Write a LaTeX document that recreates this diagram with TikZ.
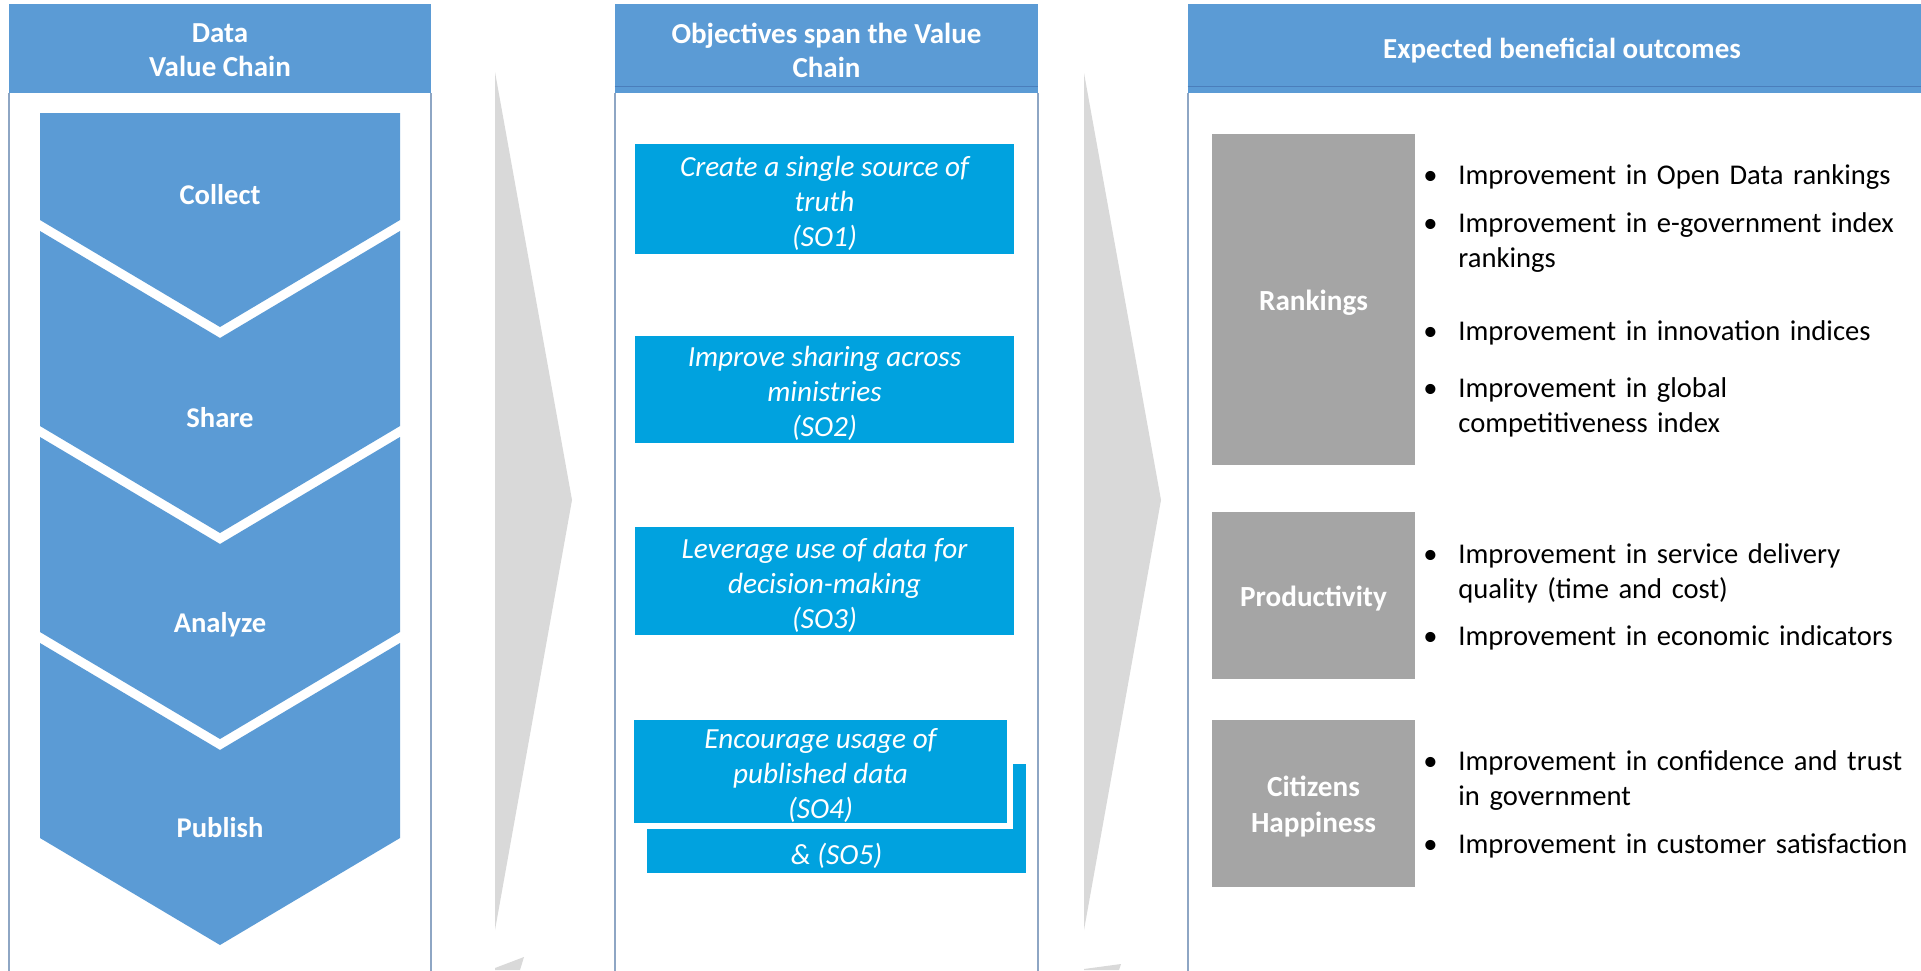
\documentclass[tikz,border=0pt]{standalone}
\usepackage{fontspec}
\setmainfont{Carlito}
\definecolor{hdrblue}{HTML}{5B9BD5}
\definecolor{socyan}{HTML}{00A2DF}
\definecolor{boxgray}{HTML}{A5A5A5}
\definecolor{arrowgray}{HTML}{D9D9D9}
\definecolor{panelline}{HTML}{8EA6C4}
\definecolor{hdrline}{HTML}{4A7EBB}
\newcommand\mybullet{\llap{\makebox[14pt][c]{•}\hspace{7pt}}}
\begin{document}
\begin{tikzpicture}[x=0.5pt,y=-0.5pt,
  hdr/.style={fill=hdrblue, inner sep=0pt, minimum height=44.5pt},
  hdrtext/.style={text=white, inner sep=0pt, font=\bfseries\fontsize{14.5}{17}\selectfont, align=center},
  chevlabel/.style={text=white, inner sep=0pt, anchor=base, font=\bfseries\fontsize{14.3}{17}\selectfont},
  sobox/.style={fill=socyan, inner sep=0pt, minimum width=189.5pt},
  sotext/.style={text=white, inner sep=0pt, font=\itshape\fontsize{14.6}{17.5}\selectfont, align=center},
  graybox/.style={fill=boxgray, inner sep=0pt, minimum width=101.5pt},
  graytext/.style={text=white, inner sep=0pt, font=\bfseries\fontsize{14.6}{18}\selectfont, align=center},
  item/.style={anchor=base west, inner sep=0pt, font=\fontsize{14.3}{17.5}\selectfont, text width=245pt, align=left},
  panel/.style={draw=panelline, line width=0.6pt},
  grayarrow/.style={fill=arrowgray}]
\useasboundingbox (0,0) rectangle (1921,970);
\fill[white] (0,0) rectangle (1921,970);

% panels
\draw[panel] (9,93) -- (9,975);
\draw[panel] (431,93) -- (431,975);
\draw[panel] (615,93) -- (615,975);
\draw[panel] (1038,93) -- (1038,975);
\draw[panel] (1188,93) -- (1188,975);

% headers
\node[hdr, minimum width=211pt] (h1) at (220,48.5) {};
\node[hdr, minimum width=211.5pt] (h2) at (826.5,48.5) {};
\node[hdr, minimum width=374pt] (h3) at (1562,48.5) {};
\draw[hdrline, line width=0.8pt] ([yshift=3.5pt]h2.south west) -- ([yshift=3.5pt]h2.south east);
\draw[hdrline, line width=0.8pt] ([yshift=3.5pt]h3.south west) -- ([yshift=3.5pt]h3.south east);
\node[hdrtext] (h1t) at (220,50) {Data\\Value Chain};
\node[hdrtext] (h2t) at (826.5,50) {Objectives span the Value\\Chain};
\node[hdrtext] (h3t) at (1562,51) {Expected beneficial outcomes};

% chevrons
\fill[hdrblue] (40,113) -- (400,113) -- (400,220) -- (220,327) -- (40,220) -- cycle;
\fill[hdrblue] (40,231) -- (220,338) -- (400,231) -- (400,426) -- (220,533) -- (40,426) -- cycle;
\fill[hdrblue] (40,437) -- (220,544) -- (400,437) -- (400,632) -- (220,739) -- (40,632) -- cycle;
\fill[hdrblue] (40,643) -- (220,750) -- (400,643) -- (400,838) -- (220,945) -- (40,838) -- cycle;
\node[chevlabel] (collect) at (220,204) {Collect};
\node[chevlabel] (share) at (220,427) {Share};
\node[chevlabel] (analyze) at (220,632) {Analyze};
\node[chevlabel] (publish) at (220,837) {Publish};

% gray arrows
\fill[grayarrow] (495,72) -- (572,500) -- (495,930) -- cycle;
\fill[grayarrow] (495,970) -- (495,968) -- (524,957) -- (520,970) -- cycle;
\fill[grayarrow] (1084,73) -- (1161,500) -- (1084,930) -- cycle;
\fill[grayarrow] (1084,970) -- (1084,969) -- (1121,964) -- (1119,970) -- cycle;

% objectives
\node[sobox, minimum height=55pt] (so1) at (824.5,199) {};
\node[sotext] (so1t) at (824.5,203) {Create a single source of\\truth\\(SO1)};
\node[sobox, minimum height=53.5pt] (so2) at (824.5,389.5) {};
\node[sotext] (so2t) at (824.5,393.5) {Improve sharing across\\ministries\\(SO2)};
\node[sobox, minimum height=54pt] (so3) at (824.5,581) {};
\node[sotext] (so3t) at (824.5,585) {Leverage use of data for\\decision-making\\(SO3)};
\node[sobox, minimum height=54.5pt] (so5) at (836.5,818.5) {};
\node[sotext, anchor=base] (so5t) at (836.5,864) {\& (SO5)};
\fill[white] (628.5,714.5) rectangle (1012.5,828.5);
\node[sobox, minimum width=186.5pt, minimum height=51.5pt] (so4) at (820.5,771.5) {};
\node[sotext] (so4t) at (820.5,775) {Encourage usage of\\published data\\(SO4)};

% outcomes
\node[graybox, minimum height=165.5pt] (rank) at (1313.5,299.5) {};
\node[graytext] (rankt) at (1313.5,302.5) {Rankings};
\node[graybox, minimum height=83.5pt] (prod) at (1313.5,595.5) {};
\node[graytext] (prodt) at (1313.5,598.5) {Productivity};
\node[graybox, minimum height=83.5pt] (citz) at (1313.5,803.5) {};
\node[graytext] (citzt) at (1313.5,806.5) {Citizens\\Happiness};

\node[item] (r1) at (1458,184) {\mybullet Improvement in Open Data rankings};
\node[item] (r2) at (1458,232) {\mybullet Improvement in e-government index\\rankings};
\node[item] (r3) at (1458,340) {\mybullet Improvement in innovation indices};
\node[item] (r4) at (1458,397) {\mybullet Improvement in global\\competitiveness index};
\node[item] (p1) at (1458,563) {\mybullet Improvement in service delivery\\quality (time and cost)};
\node[item] (p2) at (1458,645) {\mybullet Improvement in economic indicators};
\node[item] (c1) at (1458,770) {\mybullet Improvement in confidence and trust\\in government};
\node[item] (c2) at (1458,853) {\mybullet Improvement in customer satisfaction};
\end{tikzpicture}
\end{document}
